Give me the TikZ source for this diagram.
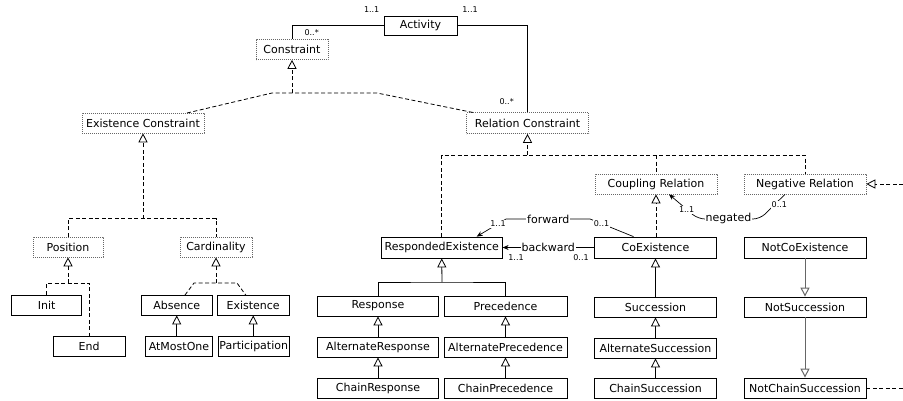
\documentclass[tikz,border=0pt]{standalone}
\usepackage{fontspec}
\setmainfont{DejaVu Sans}
\usetikzlibrary{arrows.meta,calc}
\begin{document}
\begin{tikzpicture}[x=1pt,y=-1pt,
  every node/.style={font=\fontsize{11}{13}\selectfont},
  cbox/.style={draw, line width=0.8pt, minimum height=20pt, inner sep=0pt},
  abox/.style={draw=black!60, dash pattern=on 0.8pt off 1.2pt, line width=0.6pt, minimum height=20pt, inner sep=0pt},
  lw/.style={minimum width=122pt},
  sline/.style={line width=0.8pt},
  dline/.style={line width=0.8pt, dash pattern=on 4pt off 2.5pt},
  gen/.style={sline, -{Triangle[open,length=9pt,width=9pt,fill=white]}},
  dgen/.style={dline, -{Triangle[open,length=9pt,width=9pt,fill=white]}},
  assoc/.style={line width=0.7pt, -{Stealth[length=6pt,width=5pt]}},
  mult/.style={font=\fontsize{8}{9}\selectfont, inner sep=0.8pt, fill=white},
  lbl/.style={fill=white, inner sep=1pt}]
\useasboundingbox (0,0) rectangle (903,400);

% ---- nodes ----
\node[cbox, minimum width=73pt, minimum height=19pt] (act) at (420.5,25.8) {Activity};
\node[abox, minimum width=72pt] (con) at (292,49.5) {Constraint};
\node[abox, lw] (ec) at (143,123) {Existence Constraint};
\node[abox, lw, minimum height=21pt] (rc) at (527.5,123) {Relation Constraint};
\node[abox, minimum width=70pt] (pos) at (68,247) {Position};
\node[abox, minimum width=72pt] (card) at (216,247) {Cardinality};
\node[cbox, minimum width=70pt] (init) at (46.7,305) {Init};
\node[cbox, minimum width=72pt] (end) at (89.2,346) {End};
\node[cbox, minimum width=71pt] (abs) at (176.7,305) {Absence};
\node[cbox, minimum width=72pt] (exi) at (253.2,305) {Existence};
\node[cbox, minimum width=67pt] (amo) at (179,346) {AtMostOne};
\node[cbox, minimum width=71pt] (par) at (253.7,346) {Participation};

\node[abox, lw] (cpl) at (656,184) {Coupling Relation};
\node[abox, lw] (neg) at (805,184) {Negative Relation};
\node[cbox, minimum width=121pt, minimum height=21pt] (re) at (441.7,247.5) {RespondedExistence};
\node[cbox, lw, minimum height=21pt] (co) at (655.5,247.5) {CoExistence};
\node[cbox, lw, minimum height=21pt] (nco) at (805,247.5) {NotCoExistence};

\node[cbox, minimum width=121pt] (resp) at (378,306) {Response};
\node[cbox, minimum width=123pt] (prec) at (505.5,306) {Precedence};
\node[cbox, minimum width=121pt] (aresp) at (378,347) {AlternateResponse};
\node[cbox, minimum width=123pt] (aprec) at (505.5,347) {AlternatePrecedence};
\node[cbox, minimum width=121pt] (cresp) at (378,388) {ChainResponse};
\node[cbox, minimum width=123pt] (cprec) at (505.5,388) {ChainPrecedence};

\node[cbox, lw] (succ) at (655.5,307) {Succession};
\node[cbox, lw] (asucc) at (655.5,348) {AlternateSuccession};
\node[cbox, lw] (csucc) at (655.5,388) {ChainSuccession};
\node[cbox, lw] (nsucc) at (805,307) {NotSuccession};
\node[cbox, lw] (ncsucc) at (805,388) {NotChainSuccession};

% ---- coordinates ----
\coordinate (cj) at (292,93);
\coordinate (cjl) at (272,93);
\coordinate (cjr) at (377,93);
\coordinate (ecin) at (187,113);
\coordinate (rcin) at (473,112.5);
\coordinate (ej) at (143,218.5);
\coordinate (pj) at (68,283);
\coordinate (cdj) at (216,283);
\coordinate (cdl) at (194,283);
\coordinate (cdr) at (237,283);
\coordinate (absin) at (185,295);
\coordinate (exin) at (245.7,295);
\coordinate (rj) at (527.5,155);
\coordinate (rej) at (442,282);
\coordinate (eR1) at (903,184);
\coordinate (eR2) at (903,388);

% ---- Activity associations ----
\draw[sline] (act.west) -| (con.north);
\draw[sline] (act.east) -| (rc.north);
\node[mult] at (371.7,10) {1..1};
\node[mult] at (311.7,33) {0..*};
\node[mult] at (470,9.3) {1..1};
\node[mult] at (506.7,101.7) {0..*};

% ---- Constraint hierarchy ----
\draw[dgen] (cj) -- (con.south);
\draw[dline] (ecin) -- (cjl) -- (cjr) -- (rcin);

\draw[dgen] (ej) -- (ec.south);
\draw[dline] (pos.north) -- (pos.north |- ej) -- (card.north |- ej) -- (card.north);

\draw[dgen] (pj) -- (pos.south);
\draw[dline] (init.north) -- (init.north |- pj) -- (end.north |- pj) -- (end.north);

\draw[dgen] (cdj) -- (card.south);
\draw[dline] (absin) -- (cdl) -- (cdr) -- (exin);

\draw[gen] (amo.north -| abs.south) -- (abs.south);
\draw[gen] (par.north -| exi.south) -- (exi.south);

% ---- Relation hierarchy ----
\draw[dgen] (rj) -- (rc.south);
\draw[dline] (re.north) -- (re.north |- rj) -- (neg.north |- rj) -- (neg.north);
\draw[dline] (cpl.north |- rj) -- (cpl.north);
\draw[dgen] (co.north -| cpl.south) -- (cpl.south);

\draw[gen] (rej) -- (re.south);
\draw[sline] (resp.north) |- (rej) -| (prec.north);
\draw[gen] (aresp.north) -- (resp.south);
\draw[gen] (cresp.north) -- (aresp.south);
\draw[gen] (aprec.north) -- (prec.south);
\draw[gen] (cprec.north) -- (aprec.south);

\draw[gen] (succ.north) -- (co.south);
\draw[gen] (asucc.north) -- (succ.south);
\draw[gen] (csucc.north) -- (asucc.south);

\draw[gen, draw=black!60, line width=1pt] (nco.south) -- (nsucc.north);
\draw[gen, draw=black!60, line width=1pt] (nsucc.south) -- (ncsucc.north);

\draw[dgen] (eR1) -- (neg.east);
\draw[dline] (ncsucc.east) -- (eR2);

% ---- associations between relations ----
\coordinate (fw1) at (590,219);
\coordinate (fw2) at (506,219);
\draw[assoc] ($(co.north)+(-22,0)$) -- (fw1) -- (fw2) -- ($(re.north)+(35,0)$);
\node[lbl] at (548.3,219.3) {forward};
\node[mult] at (601.5,224) {0..1};
\node[mult] at (498,224) {1..1};

\draw[assoc] (co.west) -- (re.east);
\node[lbl] at (548.3,247.7) {backward};
\node[mult] at (516,258) {1..1};
\node[mult] at (581,258) {0..1};

\coordinate (ng1) at (760,219);
\coordinate (ng2) at (698,219);
\draw[assoc, rounded corners=7pt] ($(neg.south)+(-20,0)$) -- (ng1) -- (ng2) -- ($(cpl.south)+(13,0)$);
\node[lbl] at (728.5,218.5) {negated};
\node[mult] at (686.7,210) {1..1};
\node[mult] at (779.3,205) {0..1};
\end{tikzpicture}
\end{document}
